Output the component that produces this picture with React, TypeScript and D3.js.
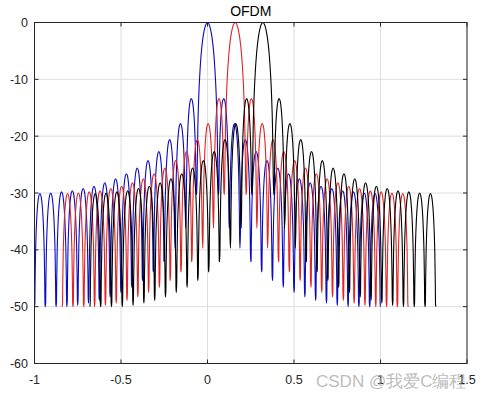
import * as d3 from 'd3';

// subcarrier centres (normalised frequency) and colours
const centers = [0, 0.16, 0.32];
const colors = ['#0a0ac0', '#e02424', '#000000'];

// sidelobe peak levels (dB), 1st .. 15th lobe away from the main lobe
const sidelobeDb = [-13.4, -17.8, -20.6, -22.7, -24.3, -25.6, -26.6, -27.5, -28.2, -28.8, -29.2, -29.6, -29.8, -30.0, -30.1];
// depth of the nulls (dB), 1st .. 16th null away from the centre
const nullFloorDb = [-30.3, -36.2, -39.7, -42.1, -43.9, -45.4, -46.6, -47.5, -48.3, -48.9, -49.4, -49.8, -50, -50, -50, -50];
const nullSpacing = 1 / 16;

// shape of one lobe: fraction across the lobe -> dB below its peak
const sideT = [0.01, 0.02, 0.035, 0.05, 0.1, 0.15, 0.2, 0.3, 0.4];
const sideDrop = [-30.0, -24.0, -19.2, -16.1, -10.2, -6.9, -4.6, -1.8, -0.4];
const mainU = [0.98, 0.95, 0.9, 0.8, 0.7, 0.6, 0.5, 0.4, 0.2];
const mainDrop = [-33.8, -25.6, -19.2, -12.6, -8.7, -5.9, -3.9, -2.4, -0.6];

const xTicks = [-1, -0.5, 0, 0.5, 1, 1.5];
const yTicks = [-60, -50, -40, -30, -20, -10, 0];

const W = 490;
const H = 397;
const left = 34.5;
const right = 467;
const top = 22.5;
const bottom = 363.5;

type Pt = [number, number];

function lobePoints(c: number): Pt[] {
  const pts: Pt[] = [];
  const n = sidelobeDb.length;
  const sideLobe = (a: number, peak: number, fa: number, fb: number) => {
    sideT.forEach((t, i) => {
      const v = peak + sideDrop[i];
      if (v > fa) pts.push([a + t * nullSpacing, v]);
    });
    pts.push([a + 0.5 * nullSpacing, peak]);
    for (let i = sideT.length - 1; i >= 0; i--) {
      const v = peak + sideDrop[i];
      if (v > fb) pts.push([a + (1 - sideT[i]) * nullSpacing, v]);
    }
    pts.push([a + nullSpacing, fb]);
  };

  pts.push([c - (n + 1) * nullSpacing, nullFloorDb[n]]);
  for (let k = n; k >= 1; k--) {
    sideLobe(c - (k + 1) * nullSpacing, sidelobeDb[k - 1], nullFloorDb[k], nullFloorDb[k - 1]);
  }
  // main lobe
  mainU.forEach((u, i) => {
    if (mainDrop[i] > nullFloorDb[0]) pts.push([c - u * nullSpacing, mainDrop[i]]);
  });
  pts.push([c, 0]);
  for (let i = mainU.length - 1; i >= 0; i--) {
    if (mainDrop[i] > nullFloorDb[0]) pts.push([c + mainU[i] * nullSpacing, mainDrop[i]]);
  }
  pts.push([c + nullSpacing, nullFloorDb[0]]);
  for (let k = 1; k <= n; k++) {
    sideLobe(c + k * nullSpacing, sidelobeDb[k - 1], nullFloorDb[k - 1], nullFloorDb[k]);
  }
  return pts;
}

export default function App() {
  const x = d3.scaleLinear().domain([-1, 1.5]).range([left, right]);
  const y = d3.scaleLinear().domain([-60, 0]).range([bottom, top]);
  const line = d3.line<Pt>()
    .x(d => x(d[0]))
    .y(d => y(d[1]))
    .curve(d3.curveMonotoneX);

  const font = '"Liberation Sans", Arial, sans-serif';
  const axisColor = '#262626';

  return (
    <svg width={W} height={H} style={{ position: 'absolute', left: 0, top: 0, background: '#fff' }}>
      <rect x={0} y={0} width={W} height={H} fill="#fff" />
      {/* grid */}
      {xTicks.map(t => (
        <line key={'gx' + t} x1={x(t)} x2={x(t)} y1={top} y2={bottom} stroke="#dedede" strokeWidth={1} />
      ))}
      {yTicks.map(t => (
        <line key={'gy' + t} x1={left} x2={right} y1={y(t)} y2={y(t)} stroke="#dedede" strokeWidth={1} />
      ))}

      {/* curves */}
      {centers.map((c, i) => (
        <path key={'c' + i} d={line(lobePoints(c)) || ''} fill="none" stroke={colors[i]} strokeWidth={1.1} />
      ))}

      {/* box and ticks */}
      <rect x={left} y={top} width={right - left} height={bottom - top} fill="none" stroke={axisColor} strokeWidth={1} />
      {xTicks.map(t => (
        <g key={'tx' + t}>
          <line x1={x(t)} x2={x(t)} y1={bottom} y2={bottom - 4} stroke={axisColor} />
          <line x1={x(t)} x2={x(t)} y1={top} y2={top + 4} stroke={axisColor} />
          <text x={x(t)} y={384} textAnchor="middle" fontFamily={font} fontSize={12.5} fill={axisColor}>
            {String(t)}
          </text>
        </g>
      ))}
      {yTicks.map(t => (
        <g key={'ty' + t}>
          <line x1={left} x2={left + 4} y1={y(t)} y2={y(t)} stroke={axisColor} />
          <line x1={right} x2={right - 4} y1={y(t)} y2={y(t)} stroke={axisColor} />
          <text x={28} y={y(t) + 4.5} textAnchor="end" fontFamily={font} fontSize={12.5} fill={axisColor}>
            {String(t)}
          </text>
        </g>
      ))}

      <text x={(left + right) / 2} y={15.5} textAnchor="middle" fontFamily={font} fontSize={14} fill="#000">
        OFDM
      </text>

      {/* watermark, overlapping the last tick labels as in the source */}
      <text x={316} y={387} fontFamily={font} fontSize={17} fill="#a8a8a8" opacity={0.75}>
        CSDN @我爱C编程
      </text>
    </svg>
  );
}
